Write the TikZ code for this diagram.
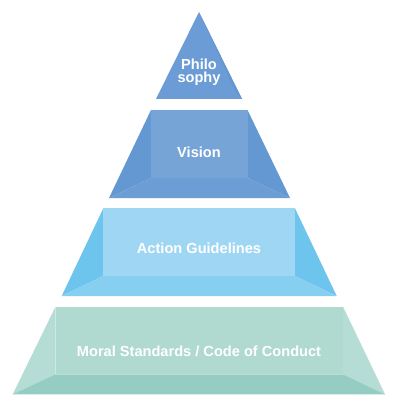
\documentclass[tikz,border=0pt]{standalone}
\usepackage{fontspec}
\setmainfont{Liberation Sans}
\definecolor{philo}{HTML}{6B9CD6}
\definecolor{philoside}{HTML}{6496D2}
\definecolor{visfront}{HTML}{77A4D7}
\definecolor{visside}{HTML}{6398D2}
\definecolor{visbot}{HTML}{6C9DD5}
\definecolor{actfront}{HTML}{9FD6F4}
\definecolor{actside}{HTML}{6DC5EE}
\definecolor{actbot}{HTML}{87CFF1}
\definecolor{morfront}{HTML}{B0D9D0}
\definecolor{morside}{HTML}{B5DCD5}
\definecolor{morbot}{HTML}{95CDC2}
\newcommand\pyrtier[9]{%
 % #1 xl top, #2 xr top, #3 ytop, #4 yinner, #5 xbl, #6 xbr, #7 ybot, #8 front, #9 side
 \fill[#9] (#1,#3) -- (#1,#4) -- (#5,#7) -- cycle;
 \fill[#9] (#2,#3) -- (#2,#4) -- (#6,#7) -- cycle;
 \fill[#8] (#1,#3) rectangle (#2,#4);
}
\tikzset{label text/.style={text=white, font=\fontsize{14.6}{13.5}\selectfont\bfseries, align=center, inner sep=0pt}}
\begin{document}
\begin{tikzpicture}[x=1pt,y=-1pt]
\useasboundingbox (0,0) rectangle (400,417);
\fill[white] (0,0) rectangle (400,417);
% Philosophy
\fill[philo] (199,12) -- (156,99) -- (242,99) -- cycle;
\fill[philoside] (199,12) -- (236,93) -- (242,99) -- cycle;
% Vision
\pyrtier{151}{247.5}{110}{178}{109}{290}{198}{visfront}{visside}
\fill[visbot] (151,178) -- (247.5,178) -- (290,198) -- (109,198) -- cycle;
% Action
\pyrtier{103.3}{295}{208.3}{276}{61.7}{336.7}{296}{actfront}{actside}
\fill[actbot] (103.3,276) -- (295,276) -- (336.7,296) -- (61.7,296) -- cycle;
% Moral
\pyrtier{55.5}{343}{306.7}{374.3}{12.7}{385}{394.3}{morfront}{morside}
\fill[morbot] (55.5,374.3) -- (343,374.3) -- (385,394.3) -- (12.7,394.3) -- cycle;
% Labels
\node[label text] (philosophy) at (199,72) {Philo\\sophy};
\node[label text] (vision) at (199,152.5) {Vision};
\node[label text] (action) at (199,248.5) {Action Guidelines};
\node[label text] (moral) at (199,351.5) {Moral Standards / Code of Conduct};
\end{tikzpicture}
\end{document}
